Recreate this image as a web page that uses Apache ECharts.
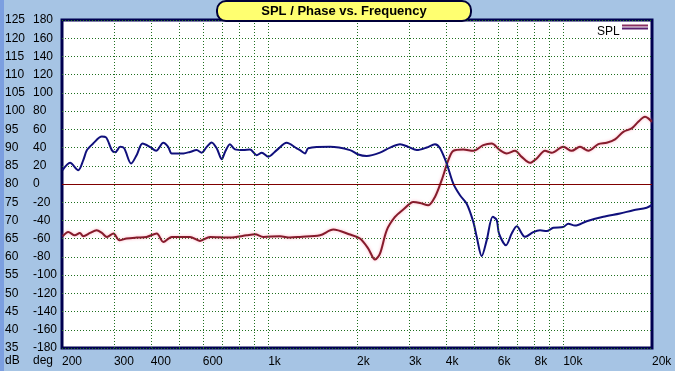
<!DOCTYPE html>
<html>
<head>
<meta charset="utf-8">
<script src="https://cdn.jsdelivr.net/npm/echarts@6/dist/echarts.min.js"></script>
<style>html,body{margin:0;padding:0;background:#a6c4e4;}#c{width:675px;height:371px;}</style>
</head>
<body>
<div id="c"></div>
<script>
// ---- data ----
const splFreq = [201,213,227,236,243,255,273,282,295,303,315,325,343,358,375,397,417,441,458,471,516,543,572,595,619,643,669,696,714,742,772,823,868,914,951,1001,1069,1155,1249,1282,1333,1368,1620,1894,2020,2157,2393,2588,2798,2985,3187,3447,3676,3823,4028,4241,4469,4709,4958,5091,5294,5505,5768,5951,6060,6400,6690,6957,7421,7919,8344,8794,9258,10008,10406,10965,12012,13675,15580,17288,19189,19954];
const splDb = [83.8,85.8,83.8,86.5,89.3,91.1,93.0,92.8,89.3,88.7,90.2,89.8,85.6,87.9,91.1,90.2,89.1,91.3,90.2,88.4,88.4,88.8,89.3,88.6,90.2,91.4,89.8,86.8,88.8,90.9,89.5,89.3,89.5,87.9,88.6,87.5,89.3,91.3,89.8,89.3,88.4,89.8,90.2,89.3,88.1,87.7,88.6,90.0,90.9,90.2,89.3,90.0,90.9,89.8,85.6,80.1,76.9,74.6,69.6,65.5,60.2,64.6,71.0,70.1,66.4,63.2,66.4,68.4,65.5,66.8,67.3,67.1,68.0,68.2,69.1,68.6,69.8,71.0,71.9,72.8,73.5,74.2];
const phaseFreq = [201,210,221,230,236,249,262,273,284,299,313,331,358,387,419,441,471,543,587,635,742,846,902,963,1097,1186,1282,1498,1662,1894,2047,2184,2302,2393,2522,2690,2871,3103,3271,3489,3676,3873,4079,4241,4585,4958,5360,5723,6106,6434,6864,7232,7718,8134,8676,9142,10008,10686,11400,12166,13153,14046,14987,15987,17070,17970,18938,19432,19954];
const phaseDeg = [-57.4,-52.6,-56.3,-53.7,-57.4,-53.7,-50.8,-53.7,-58.1,-54.4,-61.8,-59.9,-58.8,-58.1,-54.4,-63.6,-58.1,-58.1,-62.5,-58.1,-58.8,-56.3,-55.2,-58.1,-57.4,-58.8,-58.1,-56.3,-50.0,-55.5,-59.9,-70.9,-83.0,-76.4,-50.8,-36.2,-28.0,-19.7,-20.8,-23.3,-14.2,4.2,26.2,36.4,37.9,36.4,42.6,44.4,37.1,33.5,36.4,29.8,23.2,28.0,36.4,34.2,40.8,36.4,40.8,36.4,43.7,45.2,48.9,57.3,61.0,68.3,73.8,72.0,68.3];
const gridFreqs = [300,400,500,600,700,800,900,1000,2000,3000,4000,5000,6000,7000,8000,9000,10000];
const tickFreqs = [200,300,400,600,1000,2000,3000,4000,6000,8000,10000,20000];
const tickTexts = ['200','300','400','600','1k','2k','3k','4k','6k','8k','10k','20k'];
const titleText = 'SPL / Phase vs. Frequency';
const legendText = 'SPL';

const FONT = 'Arial, "Liberation Sans", sans-serif';
const chart = echarts.init(document.getElementById('c'), null, {renderer:'canvas'});
const zip = (a,b) => a.map((v,i)=>[v,b[i]]);

chart.setOption({
  animation:false,
  backgroundColor:'#a6c4e4',
  textStyle:{fontFamily:FONT},
  grid:{left:62,right:23,top:20,bottom:23,show:true,backgroundColor:'#ffffff',borderColor:'#000050',borderWidth:3,containLabel:false},
  xAxis:{type:'log',logBase:10,min:200,max:20000,axisLabel:{show:false},axisTick:{show:false},axisLine:{show:false},splitLine:{show:false}},
  yAxis:[
    {type:'value',min:35,max:125,interval:5,position:'left',
     axisLine:{show:false},axisTick:{show:false},
     axisLabel:{align:'left',margin:57,color:'#000',fontSize:12,fontFamily:FONT,padding:[0,0,6,0]},
     splitLine:{show:true,lineStyle:{color:'#1f6f1f',type:[1,2],width:1}}},
    {type:'value',min:-180,max:180,interval:20,position:'left',
     axisLine:{show:false},axisTick:{show:false},
     axisLabel:{align:'left',margin:29,color:'#000',fontSize:12,fontFamily:FONT,padding:[0,0,6,0]},
     splitLine:{show:false}}
  ],
  series:[
    {type:'line',name:'grid',data:[],yAxisIndex:0,z:1,silent:true,
     markLine:{silent:true,symbol:['none','none'],animation:false,
       lineStyle:{color:'#1f6f1f',type:[1,2],width:1},label:{show:false},
       data:gridFreqs.map(f=>({xAxis:f}))}},
    {type:'line',name:'ticks',data:[],yAxisIndex:0,z:1,silent:true,
     markLine:{silent:true,symbol:['none','none'],animation:false,
       lineStyle:{color:'rgba(0,0,0,0)',width:1,type:'solid'},
       label:{show:true,position:'start',distance:8,align:'left',color:'#000',fontSize:12,fontFamily:FONT,
         formatter:p=>tickTexts[p.dataIndex]},
       emphasis:{disabled:true},
       data:tickFreqs.map(f=>({xAxis:f}))}},
    {type:'line',name:'Phase',yAxisIndex:1,z:3,data:zip(phaseFreq,phaseDeg),smooth:0.3,showSymbol:false,
     lineStyle:{color:'#861c2c',width:2,shadowColor:'rgba(255,120,150,0.6)',shadowBlur:3},
     markLine:{silent:true,symbol:['none','none'],label:{show:false},
       lineStyle:{color:'#800000',type:'solid',width:1},data:[{yAxis:0}]}},
    {type:'line',name:'SPL',yAxisIndex:0,z:4,data:zip(splFreq,splDb),smooth:0.3,showSymbol:false,
     lineStyle:{color:'#10107c',width:2}}
  ],
  graphic:[
    {type:'rect',left:0,top:0,shape:{width:4,height:371},style:{fill:'#7c9fe0'},z:0},
    {type:'rect',shape:{x:217,y:1,width:254,height:20,r:9},style:{fill:'#ffff70',stroke:'#00003a',lineWidth:2},z:10},
    {type:'text',x:344,y:11,style:{text:titleText,font:'bold 13px '+FONT,fill:'#000',align:'center',verticalAlign:'middle'},z:11},
    {type:'text',x:597,y:32,style:{text:legendText,font:'12px '+FONT,fill:'#000',align:'left',verticalAlign:'middle'},z:11},
    {type:'line',shape:{x1:622,y1:25.5,x2:648,y2:25.5},style:{stroke:'#8a3060',lineWidth:2},z:11},
    {type:'line',shape:{x1:622,y1:28.5,x2:648,y2:28.5},style:{stroke:'#5a2070',lineWidth:2},z:11},
    {type:'text',x:5,y:361,style:{text:'dB',font:'12px '+FONT,fill:'#000',align:'left',verticalAlign:'middle'},z:11},
    {type:'text',x:33,y:361,style:{text:'deg',font:'12px '+FONT,fill:'#000',align:'left',verticalAlign:'middle'},z:11}
  ]
});
</script>
</body>
</html>
